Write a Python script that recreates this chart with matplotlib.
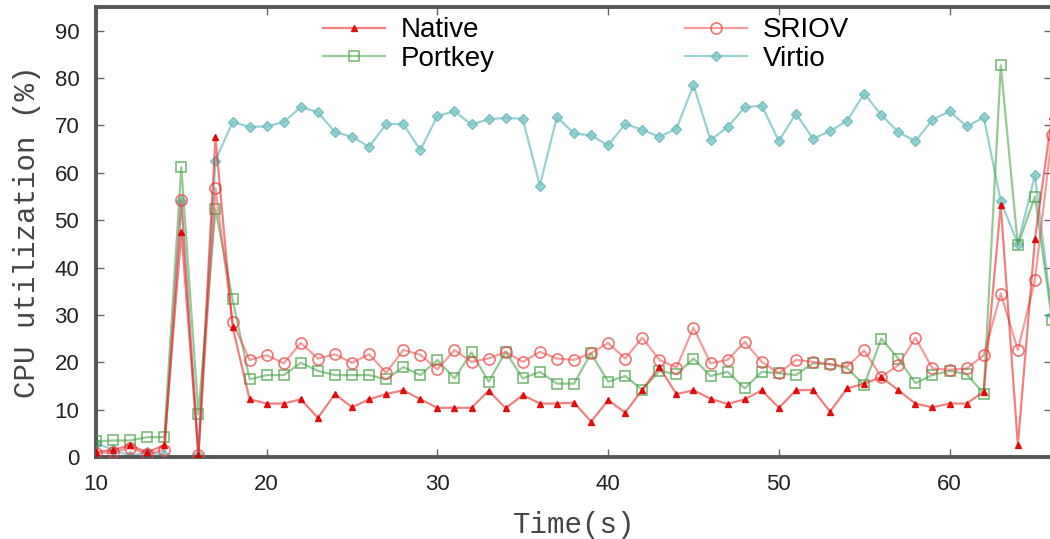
import matplotlib
matplotlib.use('Agg')
import matplotlib.pyplot as plt

# Data, one sample per second
time_s = list(range(10, 67))

native = [1.1, 1.5, 2.5, 1.0, 2.5, 47.5, 0.5, 67.5, 27.5, 12.2,
          11.3, 11.3, 12.2, 8.3, 13.3, 10.5, 12.2, 13.3, 14.1, 12.2,
          10.4, 10.4, 10.4, 14.0, 10.3, 13.1, 11.3, 11.3, 11.5, 7.5,
          12.0, 9.4, 14.2, 19.0, 13.3, 14.1, 12.3, 11.2, 12.2, 14.1,
          10.4, 14.1, 14.2, 9.6, 14.5, 15.5, 16.9, 14.1, 11.3, 10.5,
          11.3, 11.3, 13.8, 53.2, 2.5, 46.0, 72.0]

sriov = [0.8, 1.0, 2.0, 0.6, 1.5, 54.2, 0.5, 56.7, 28.5, 20.5,
         21.5, 19.8, 24.1, 20.8, 21.7, 19.9, 21.7, 17.8, 22.6, 21.6,
         18.5, 22.6, 20.1, 20.8, 22.2, 20.1, 22.2, 20.8, 20.5, 21.9,
         24.1, 20.8, 25.2, 20.5, 18.9, 27.3, 19.8, 20.5, 24.3, 20.1,
         17.7, 20.5, 20.1, 19.6, 19.1, 22.5, 16.9, 19.4, 25.2, 18.7,
         18.4, 18.7, 21.5, 34.5, 22.6, 37.3, 68.0]

portkey = [3.3, 3.5, 3.5, 4.2, 4.2, 61.2, 9.0, 52.3, 33.3, 16.4,
           17.3, 17.3, 19.9, 18.2, 17.3, 17.3, 17.3, 16.4, 19.0, 17.3,
           20.5, 16.6, 22.1, 15.9, 22.2, 16.6, 18.0, 15.5, 15.5, 21.9,
           15.9, 17.1, 14.2, 18.2, 17.5, 20.8, 17.1, 18.0, 14.5, 18.0,
           17.7, 17.3, 19.8, 19.6, 18.8, 15.2, 25.0, 20.8, 15.6, 17.3,
           18.2, 17.5, 13.4, 82.7, 44.7, 55.0, 29.0]

virtio = [3.0, 1.5, 0.3, 1.0, 0.5, 54.0, 0.5, 62.6, 70.7, 69.7,
          69.8, 70.7, 73.9, 72.8, 68.6, 67.6, 65.5, 70.3, 70.3, 64.8,
          72.0, 73.0, 70.2, 71.3, 71.6, 71.4, 57.3, 71.8, 68.3, 67.9,
          65.8, 70.3, 69.1, 67.6, 69.3, 78.5, 66.9, 69.7, 73.8, 74.2,
          66.7, 72.5, 67.2, 68.8, 71.0, 76.7, 72.2, 68.6, 66.7, 71.2,
          73.0, 69.8, 71.7, 54.0, 45.0, 59.5, 30.0]

x_ticks = [10, 20, 30, 40, 50, 60]
y_ticks = [0, 10, 20, 30, 40, 50, 60, 70, 80, 90]

SANS = ['Liberation Sans', 'DejaVu Sans']
MONO = ['Liberation Mono', 'DejaVu Sans Mono']

fig = plt.figure(figsize=(10.5, 5.39), dpi=100)
ax = fig.add_axes([0.0914, 0.152, 0.9105, 0.835])

# line colour (semi-transparent) and marker colour per series
ax.plot(time_s, virtio, color=(0.33, 0.70, 0.70, 0.6), linewidth=1.6,
        marker='D', markersize=5, markerfacecolor=(0.50, 0.78, 0.78, 0.8),
        markeredgecolor=(0.42, 0.73, 0.73, 0.85), label='Virtio', zorder=2)
ax.plot(time_s, portkey, color=(0.25, 0.62, 0.25, 0.55), linewidth=1.6,
        marker='s', markersize=7.5, markerfacecolor='none',
        markeredgecolor=(0.25, 0.62, 0.25, 0.7), markeredgewidth=1.2,
        label='Portkey', zorder=3)
ax.plot(time_s, sriov, color=(0.93, 0.30, 0.30, 0.55), linewidth=1.6,
        marker='o', markersize=8, markerfacecolor='none',
        markeredgecolor=(0.93, 0.28, 0.28, 0.75), markeredgewidth=1.2,
        label='SRIOV', zorder=4)
ax.plot(time_s, native, color=(0.90, 0.10, 0.10, 0.55), linewidth=1.6,
        marker='^', markersize=5, markerfacecolor=(0.88, 0.0, 0.0, 0.9),
        markeredgecolor=(0.88, 0.0, 0.0, 0.9), label='Native', zorder=5)

ax.set_xlim(10, 66)
ax.set_ylim(0, 95)
ax.set_xticks(x_ticks)
ax.set_yticks(y_ticks)
ax.tick_params(axis='both', direction='in', length=6, width=1, color='#666666',
               top=True, right=True, labelsize=16, pad=12)
for lab in ax.get_xticklabels() + ax.get_yticklabels():
    lab.set_family(SANS)
    lab.set_color('#222222')

for sp in ax.spines.values():
    sp.set_linewidth(2.8)
    sp.set_color('#555555')

ax.set_xlabel('Time(s)', family=MONO, fontsize=21, color='#444444', labelpad=12)
ax.set_ylabel('CPU utilization (%)', family=MONO, fontsize=21, color='#444444',
              labelpad=10)

handles, labels = ax.get_legend_handles_labels()
order = ['Native', 'Portkey', 'SRIOV', 'Virtio']
hl = [handles[labels.index(n)] for n in order]
ax.legend(hl, order, ncol=2, loc='upper left', bbox_to_anchor=(0.308, 0.968),
          bbox_transform=fig.transFigure, frameon=False, borderpad=0,
          borderaxespad=0, handlelength=2.2, handletextpad=0.6,
          columnspacing=6.85, labelspacing=0.1,
          prop={'family': SANS, 'size': 20})

fig.savefig('out.png', dpi=100)
